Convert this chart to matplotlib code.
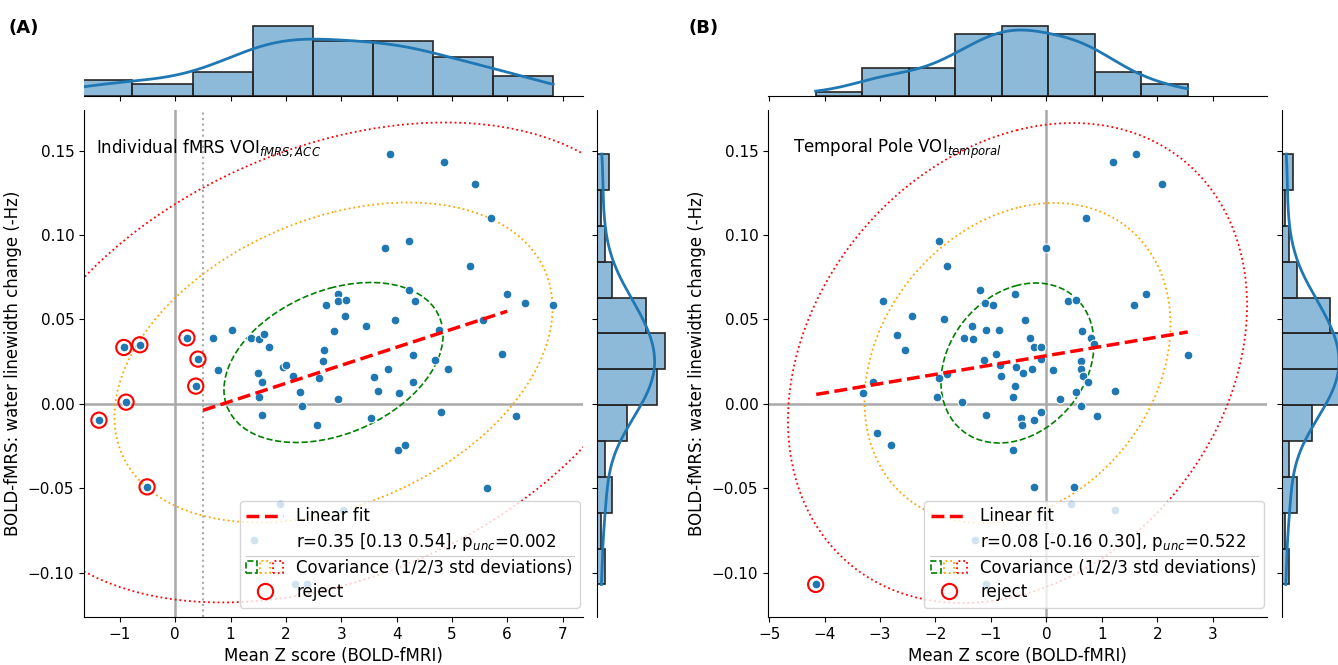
import numpy as np
import matplotlib
matplotlib.use("Agg")
import matplotlib.pyplot as plt
import seaborn as sns
from matplotlib.patches import Ellipse, Rectangle
from matplotlib.lines import Line2D
from matplotlib.legend_handler import HandlerTuple
from matplotlib.colors import to_rgb

plt.rcParams['font.family'] = ['DejaVu Sans']

# ---------------- data: panel A (individual fMRS VOI) ----------------
xA = np.array([3.89, 4.86, 5.41, 5.71, 3.79, 4.22, 5.33, 4.22, 4.34, 6.00,
               6.32, 6.83, 2.95, 2.95, 3.08, 2.73, 3.06, 2.86, 3.45, 3.97,
               4.77, 5.57, 5.90, 4.29, 4.69, 4.93, 3.84, 4.29, 3.60, 3.66,
               4.05, 2.68, 2.67, 2.59, 2.26, 2.29, 2.95, 1.95, 2.01, 2.12,
               1.49, 1.56, 1.51, 1.57, 1.37, 1.51, 1.60, 1.69, 1.02, 0.68,
               0.77, 2.57, 3.53, 4.81, 6.16, -1.38, -0.93, -0.64, -0.89, 0.21,
               0.41, 0.37, 4.03, 4.16, 5.64, -0.51, 1.89, 3.04, 1.42, 2.16,
               2.38, -1.86, 1.50, 1.52])
yA = np.array([0.148, 0.143, 0.130, 0.110, 0.0923, 0.0966, 0.0814, 0.0676, 0.0611, 0.065,
               0.060, 0.0585, 0.0652, 0.0607, 0.0613, 0.0585, 0.0518, 0.0433, 0.046, 0.0498,
               0.0437, 0.0498, 0.0294, 0.0289, 0.0259, 0.0208, 0.0209, 0.013, 0.016, 0.0079,
               0.0067, 0.0318, 0.0255, 0.0154, 0.0073, -0.001, 0.003, 0.0217, 0.0233, 0.0162,
               0.0184, 0.013, 0.004, -0.0069, 0.0393, 0.0387, 0.0413, 0.0338, 0.0439, 0.0391,
               0.0198, -0.0126, -0.0085, -0.0047, -0.0073, -0.0097, 0.0334, 0.035, 0.001, 0.0391,
               0.0265, 0.0105, -0.0273, -0.0245, -0.0496, -0.0492, -0.0591, -0.0629, -0.0808, -0.107,
               -0.107, -0.017, 0.018, 0.0042])
rejA = np.array([0] * 55 + [1, 1, 1, 1, 1, 1, 1, 0, 0, 0, 1, 0, 0, 0, 0, 0, 0, 0, 0], dtype=bool)

# ---------------- data: panel B (temporal pole VOI) ----------------
xB = np.array([1.62, 1.20, 2.08, 0.71, -0.01, -1.94, -1.80, -1.19, -1.11, -0.96,
               -0.56, 0.39, 0.54, 1.80, 1.58, -2.95, -2.43, -1.85, -0.38, -2.69,
               -2.55, -1.34, -1.08, -0.86, 0.64, -1.48, -1.33, -0.29, 0.80, 0.86,
               -0.23, -0.09, 2.55, -0.91, -1.12, -0.09, 0.62, -0.83, -0.54, -0.25,
               0.12, 0.62, -0.42, -1.80, -0.81, 0.67, -1.94, -3.12, 0.75, -0.56,
               -3.30, 1.24, 0.53, -1.98, -0.61, 0.24, -1.52, -1.09, -0.45, -0.44,
               -0.23, -0.09, 0.63, 0.92, -3.06, -2.81, -0.60, -0.23, 0.50, 0.45,
               1.24, -1.29, -1.08, -4.16])
yB = np.array([0.148, 0.143, 0.130, 0.110, 0.0923, 0.0966, 0.0814, 0.0676, 0.060, 0.0585,
               0.065, 0.0607, 0.0613, 0.065, 0.0585, 0.0611, 0.0518, 0.050, 0.0498, 0.041,
               0.032, 0.046, 0.0439, 0.0439, 0.0433, 0.0393, 0.0387, 0.0391, 0.0391, 0.0352,
               0.0338, 0.0334, 0.029, 0.0294, 0.026, 0.0265, 0.0255, 0.0233, 0.0217, 0.0207,
               0.0198, 0.0207, 0.0184, 0.0178, 0.0162, 0.0162, 0.0154, 0.013, 0.013, 0.0105,
               0.0065, 0.0079, 0.0073, 0.004, 0.004, 0.003, 0.001, -0.0069, -0.0083, -0.0123,
               -0.0097, -0.0047, -0.001, -0.0073, -0.017, -0.0243, -0.0271, -0.0492, -0.0494, -0.0591,
               -0.0628, -0.0808, -0.107, -0.107])
rejB = np.array([0] * 73 + [1], dtype=bool)

# linear fits: x-range, slope, intercept
fitA_x = np.array([0.5, 6.0]); fitA_coef = (0.01068, -0.0092)
fitB_x = np.array([-4.15, 2.55]); fitB_coef = (0.00552, 0.0285)

# covariance ellipses: mean (x, y), sd (x, y), correlation
ellA_mean = (2.86, 0.0245); ellA_sd = (1.98, 0.0474); ellA_rho = 0.34
ellB_mean = (-0.52, 0.0242); ellB_sd = (1.38, 0.0474); ellB_rho = 0.24

labelA = "Individual fMRS VOI$_{fMRS,ACC}$"
labelB = "Temporal Pole VOI$_{temporal}$"
statA = "r=0.35 [0.13 0.54], p$_{unc}$=0.002"
statB = "r=0.08 [-0.16 0.30], p$_{unc}$=0.522"
xticksA = [-1, 0, 1, 2, 3, 4, 5, 6, 7]
xticksB = [-5, -4, -3, -2, -1, 0, 1, 2, 3]
yticks = [-0.10, -0.05, 0.00, 0.05, 0.10, 0.15]

# ---------------- figure ----------------
W, H = 1338, 665
fig = plt.figure(figsize=(W / 100, H / 100), dpi=100)

def fx(px):
    return px / W

def fy(py):
    return 1 - py / H

main_w = 499 / W
main_b = fy(617)
main_h = 507 / H
top_b = fy(95.5)
top_h = 73.2 / H
right_w = 70.7 / W

C0 = to_rgb('#1f77b4')


def cov_ellipse(ax, mean, sd, rho, k, **kw):
    cov = np.array([[sd[0] ** 2, rho * sd[0] * sd[1]],
                    [rho * sd[0] * sd[1], sd[1] ** 2]])
    vals, vecs = np.linalg.eigh(cov)
    order = vals.argsort()[::-1]
    vals, vecs = vals[order], vecs[:, order]
    angle = np.degrees(np.arctan2(vecs[1, 0], vecs[0, 0]))
    e = Ellipse(mean, 2 * k * np.sqrt(vals[0]), 2 * k * np.sqrt(vals[1]),
                angle=angle, fill=False, **kw)
    ax.add_patch(e)


def style_hist(ax):
    for p in ax.patches:
        p.set_alpha(None)
        p.set_facecolor((*C0, 0.5))
        p.set_edgecolor('#262626')
        p.set_linewidth(1.2)
    for ln in ax.lines:
        ln.set_linewidth(2)
        ln.set_color('#1f77b4')


def panel(left, x, y, rej, xlim, xticks, fit_x, fit_coef, mean, sd, rho,
          txt, txt_x, stat, threshold, tag, tag_x, right_left):
    ax = fig.add_axes([left, main_b, main_w, main_h])
    axt = fig.add_axes([left, top_b, main_w, top_h])
    axr = fig.add_axes([right_left, main_b, right_w, main_h])

    ax.axhline(0, color='darkgray', lw=1.8, zorder=1)
    ax.axvline(0, color='darkgray', lw=1.8, zorder=1)
    if threshold is not None:
        ax.axvline(threshold, color='darkgray', lw=1.5, ls=':', zorder=1)

    cov_ellipse(ax, mean, sd, rho, 1, edgecolor='green', ls='--', lw=1.2, zorder=2)
    cov_ellipse(ax, mean, sd, rho, 2, edgecolor='orange', ls=':', lw=1.3, zorder=2)
    cov_ellipse(ax, mean, sd, rho, 3, edgecolor='red', ls=':', lw=1.3, zorder=2)

    ax.scatter(x, y, s=40, color='#1f77b4', edgecolors='white', linewidths=0.75, zorder=3)
    ax.scatter(x[rej], y[rej], s=120, facecolors='none', edgecolors='red',
               linewidths=1.5, zorder=4)
    ax.plot(fit_x, fit_coef[0] * fit_x + fit_coef[1], color='red', ls='--', lw=2.5, zorder=5)

    ax.set_xlim(*xlim)
    ax.set_ylim(-0.1263, 0.1741)
    ax.set_xticks(xticks)
    ax.set_yticks(yticks)
    ax.tick_params(labelsize=11)
    for s in ('top', 'right'):
        ax.spines[s].set_visible(False)
    ax.set_xlabel('Mean Z score (BOLD-fMRI)', fontsize=12)
    ax.set_ylabel('BOLD-fMRS: water linewidth change (-Hz)', fontsize=12)
    ax.text(txt_x, 0.915, txt, transform=ax.transAxes, fontsize=12, va='baseline')

    h_fit = Line2D([], [], color='red', ls='--', lw=2.5)
    h_blank = Line2D([], [], ls='none')
    h_cov = (Rectangle((0, 0), 1, 1, fill=False, ec='green', ls='--', lw=1.2),
             Rectangle((0, 0), 1, 1, fill=False, ec='orange', ls=':', lw=1.3),
             Rectangle((0, 0), 1, 1, fill=False, ec='red', ls=':', lw=1.3))
    h_rej = Line2D([], [], ls='none', marker='o', mfc='none', mec='red', ms=11, mew=1.5)
    leg = ax.legend([h_fit, h_blank, h_cov, h_rej],
                    ['Linear fit', stat, 'Covariance (1/2/3 std deviations)', 'reject'],
                    handler_map={tuple: HandlerTuple(ndivide=None, pad=0.15)},
                    loc='lower right', bbox_to_anchor=(1.0, 0.012), borderaxespad=0.2,
                    fontsize=12, framealpha=0.8, handlelength=2.2,
                    labelspacing=0.35)
    leg.set_zorder(10)

    # top marginal
    sns.histplot(x=x, bins=8, kde=True, ax=axt, kde_kws={'cut': 0})
    style_hist(axt)
    axt.set_xlim(*xlim)
    axt.set_xticks(xticks)
    axt.tick_params(axis='x', labelbottom=False)
    axt.set_yticks([])
    axt.set_xlabel('')
    axt.set_ylabel('')
    for s in ('top', 'right', 'left'):
        axt.spines[s].set_visible(False)
    axt.patch.set_alpha(0)

    # right marginal
    sns.histplot(y=y, bins=12, kde=True, ax=axr, kde_kws={'cut': 0})
    style_hist(axr)
    axr.set_ylim(-0.1263, 0.1741)
    axr.set_yticks(yticks)
    axr.tick_params(axis='y', labelleft=False)
    axr.set_xticks([])
    axr.set_xlabel('')
    axr.set_ylabel('')
    for s in ('top', 'right', 'bottom'):
        axr.spines[s].set_visible(False)
    axr.patch.set_alpha(0)

    fig.text(tag_x, fy(19), tag, fontsize=13, fontweight='bold', va='top')
    return ax, leg


axA, legA = panel(fx(84), xA, yA, rejA, (-1.65, 7.37), xticksA, fitA_x, fitA_coef,
                  ellA_mean, ellA_sd, ellA_rho, labelA, 0.025, statA, 0.5,
                  '(A)', fx(9), fx(597.3))
axB, legB = panel(fx(768), xB, yB, rejB, (-5.02, 3.98), xticksB, fitB_x, fitB_coef,
                  ellB_mean, ellB_sd, ellB_rho, labelB, 0.051, statB, None,
                  '(B)', fx(689), fx(1281.7))

# separator line inside each legend
fig.canvas.draw()
r = fig.canvas.get_renderer()
for leg in (legA, legB):
    bb = leg.get_window_extent(r)
    t = leg.get_texts()
    b1 = t[1].get_window_extent(r)
    b2 = t[2].get_window_extent(r)
    ymid = (b1.y0 + b2.y1) / 2
    inv = fig.transFigure.inverted()
    (x0, y0) = inv.transform((bb.x0 + 6, ymid))
    (x1, _) = inv.transform((bb.x1 - 6, ymid))
    fig.add_artist(Line2D([x0, x1], [y0, y0], color='#cccccc', lw=0.8, zorder=20))

fig.savefig('out.png', dpi=100)
